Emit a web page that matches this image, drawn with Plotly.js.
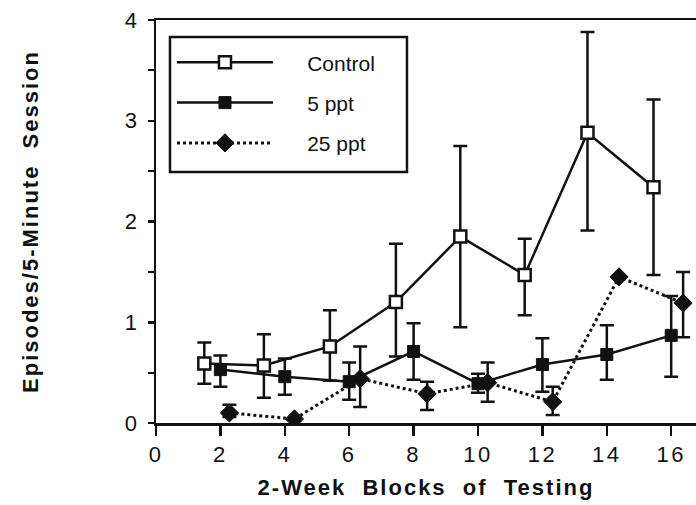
<!DOCTYPE html>
<html>
<head>
<meta charset="utf-8">
<script src="https://cdn.plot.ly/plotly-3.0.1.min.js"></script>
<style>
html,body{margin:0;padding:0;background:#fff;}
#chart{width:696px;height:505px;}
#chart .xtick text{letter-spacing:2.5px;}
#chart .xtitle, #chart .ytitle{letter-spacing:2px;}
</style>
</head>
<body>
<div id="chart"></div>
<script>
// ---- data ----
var seriesNames = ["Control", "5 ppt", "25 ppt"];

var controlX  = [1.5, 3.35, 5.4, 7.45, 9.45, 11.45, 13.4, 15.45];
var controlY  = [0.59, 0.57, 0.76, 1.20, 1.85, 1.47, 2.88, 2.34];
var controlHi = [0.80, 0.88, 1.12, 1.78, 2.75, 1.83, 3.88, 3.21];
var controlLo = [0.39, 0.25, 0.42, 0.66, 0.95, 1.07, 1.91, 1.47];

var fiveX  = [2, 4, 6, 8, 10, 12, 14, 16];
var fiveY  = [0.53, 0.46, 0.41, 0.71, 0.39, 0.58, 0.68, 0.87];
var fiveHi = [0.67, 0.64, 0.60, 0.99, 0.49, 0.84, 0.97, 1.26];
var fiveLo = [0.36, 0.28, 0.23, 0.43, 0.30, 0.31, 0.43, 0.46];

var twentyFiveX  = [2.28, 4.3, 6.34, 8.42, 10.3, 12.32, 14.38, 16.37];
var twentyFiveY  = [0.10, 0.04, 0.44, 0.29, 0.40, 0.21, 1.45, 1.19];
var twentyFiveHi = [0.18, null, 0.76, 0.41, 0.60, 0.36, null, 1.50];
var twentyFiveLo = [0.06, null, 0.16, 0.13, 0.21, 0.08, null, 0.85];

var xTickVals = [0, 2, 4, 6, 8, 10, 12, 14, 16];
var yTickVals = [0, 1, 2, 3, 4];

function plus(y, hi){ return y.map(function(v,i){ return hi[i]==null ? null : +(hi[i]-v).toFixed(3); }); }
function minus(y, lo){ return y.map(function(v,i){ return lo[i]==null ? null : +(v-lo[i]).toFixed(3); }); }

var ink = "#111";
var NB = "\u00A0";
function pad(n){ return new Array(n+1).join(NB); }
function errY(y, hi, lo){
  return {type:"data", symmetric:false, array:plus(y,hi), arrayminus:minus(y,lo),
          color:ink, thickness:2.5, width:7};
}

var traces = [
  {x:controlX, y:controlY, name:pad(5)+seriesNames[0]+pad(4), type:"scatter", mode:"lines+markers",
   legendgroup:"a",
   line:{color:ink, width:2.5},
   marker:{symbol:"square", size:12, color:"#fff", line:{color:ink, width:2.5}},
   error_y:errY(controlY, controlHi, controlLo)},
  {x:fiveX, y:fiveY, name:pad(5)+seriesNames[1], type:"scatter", mode:"lines+markers",
   legendgroup:"b",
   line:{color:ink, width:2.5},
   marker:{symbol:"square", size:12, color:ink, line:{color:ink, width:1}},
   error_y:errY(fiveY, fiveHi, fiveLo)},
  {x:twentyFiveX, y:twentyFiveY, name:pad(5)+seriesNames[2], type:"scatter", mode:"lines+markers",
   legendgroup:"c",
   line:{color:ink, width:3, dash:"dot"},
   marker:{symbol:"diamond", size:14, color:ink, line:{color:ink, width:1}},
   error_y:errY(twentyFiveY, twentyFiveHi, twentyFiveLo)}
];

var font = "Liberation Sans, Arial, Helvetica, sans-serif";
var layout = {
  width:696, height:505,
  margin:{l:156, r:0, t:20, b:82, pad:0},
  paper_bgcolor:"#fff", plot_bgcolor:"#fff",
  font:{family:font, size:21, color:ink},
  showlegend:true,
  legend:{x:0.0296, y:0.945, xanchor:"left", yanchor:"top",
          borderwidth:0, bgcolor:"rgba(0,0,0,0)",
          font:{family:font, size:21, color:ink},
          traceorder:"grouped", tracegroupgap:10, itemwidth:96},
  shapes:[{type:"rect", xref:"paper", yref:"paper",
           x0:0.0259, x1:0.4648, y0:0.6228, y1:0.9578,
           line:{color:ink, width:2.5}, fillcolor:"rgba(0,0,0,0)", layer:"above"}],
  xaxis:{range:[0, 16.77], tickvals:xTickVals, ticks:"outside", ticklen:10, tickwidth:2.5,
         tickcolor:ink, showline:true, linecolor:ink, linewidth:2.5, mirror:true,
         showgrid:false, zeroline:false,
         tickfont:{family:font, size:22, color:ink},
         title:{text:"2-Week"+pad(2)+"Blocks"+pad(2)+"of"+pad(2)+"Testing",
                font:{family:font, size:22, color:ink, weight:"bold"}, standoff:14}},
  yaxis:{range:[0, 4], tickvals:yTickVals, ticks:"outside", ticklen:6, tickwidth:2.5,
         tickcolor:ink, showline:true, linecolor:ink, linewidth:2.5,
         showgrid:false, zeroline:false,
         minor:{dtick:0.5, ticks:"outside", ticklen:6, tickwidth:2, tickcolor:ink, showgrid:false},
         tickfont:{family:font, size:22, color:ink},
         ticklabelstandoff:6,
         title:{text:"Episodes/5-Minute"+pad(2)+"Session",
                font:{family:font, size:22, color:ink, weight:"bold"}, standoff:80}}
};

Plotly.newPlot("chart", traces, layout, {staticPlot:true, displayModeBar:false});
</script>
</body>
</html>
